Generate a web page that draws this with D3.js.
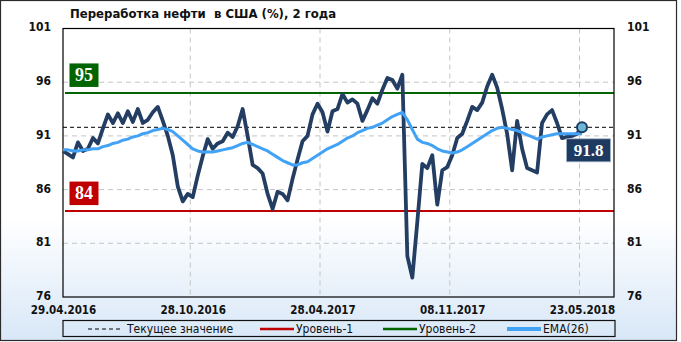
<!DOCTYPE html>
<html>
<head>
<meta charset="utf-8">
<script src="https://cdn.jsdelivr.net/npm/d3@7"></script>
<style>
  body { margin: 0; background: #fff; }
  svg { display: block; }
</style>
</head>
<body>
<svg width="681" height="342"></svg>
<script>
// weekly refinery utilization, %
const refining = [89.6, 89.3, 89.0, 90.4, 89.6, 89.8, 90.8, 90.3, 91.7, 93.0,
  92.2, 93.1, 92.2, 93.3, 92.3, 93.5, 92.2, 92.5, 93.2, 93.7,
  92.4, 91.0, 89.2, 86.3, 84.9, 85.6, 85.3, 87.3, 89.1, 90.7,
  89.8, 90.3, 90.5, 91.3, 90.9, 91.9, 93.5, 91.0, 88.3, 88.0,
  87.5, 85.6, 84.2, 85.8, 85.6, 85.0, 87.0, 88.8, 90.5, 91.0,
  93.0, 94.0, 93.2, 91.4, 93.3, 93.5, 94.9, 94.1, 94.4, 94.0,
  92.4, 93.4, 94.5, 94.0, 95.3, 96.4, 96.2, 95.4, 96.7, 79.8,
  77.8, 83.0, 88.4, 88.0, 89.2, 84.6, 87.8, 88.1, 89.2, 90.8,
  91.2, 92.4, 93.7, 93.4, 94.1, 95.6, 96.7, 95.5, 93.5, 91.2,
  87.8, 92.4, 89.8, 88.0, 87.8, 87.6, 92.2, 93.0, 93.4, 92.2,
  90.8, 90.9, 91.0, 91.2, 91.8];

const ema26 = [89.7, 89.7, 89.6, 89.6, 89.7, 89.7, 89.8, 89.8, 90.0, 90.1,
  90.3, 90.4, 90.6, 90.7, 90.9, 91.0, 91.2, 91.3, 91.5, 91.6,
  91.7, 91.6, 91.4, 91.0, 90.6, 90.2, 89.8, 89.6, 89.5, 89.5,
  89.5, 89.6, 89.7, 89.8, 89.9, 90.1, 90.3, 90.4, 90.2, 90.0,
  89.8, 89.6, 89.3, 89.0, 88.7, 88.5, 88.3, 88.3, 88.5, 88.6,
  88.9, 89.2, 89.5, 89.8, 90.0, 90.2, 90.5, 90.8, 91.0, 91.3,
  91.5, 91.7, 91.8, 92.0, 92.2, 92.5, 92.8, 93.0, 93.2, 92.5,
  91.6, 90.7, 90.4, 90.3, 90.1, 89.8, 89.6, 89.5, 89.4, 89.5,
  89.7, 90.0, 90.3, 90.6, 90.9, 91.2, 91.5, 91.7, 91.8, 91.7,
  91.6, 91.5, 91.3, 91.1, 90.9, 90.7, 90.9, 91.0, 91.1, 91.2,
  91.2, 91.2, 91.2, 91.2, 91.2];

const level1 = 84;
const level2 = 95;
const current = 91.8;

const yTicks = [76, 81, 86, 91, 96, 101];
const xTickIdx = [0, 26, 52, 78, 104];
const xTickLabels = ["29.04.2016", "28.10.2016", "28.04.2017", "08.11.2017", "23.05.2018"];

const title = "Переработка нефти  в США (%), 2 года";
const legendNames = ["Текущее значение", "Уровень-1", "Уровень-2", "EMA(26)"];

const labelFont = "'DejaVu Sans Condensed', 'Liberation Sans', sans-serif";
const serifFont = "'Liberation Serif', 'DejaVu Serif', serif";

const svg = d3.select("svg");
const plotL = 63, plotR = 614, plotT = 28.5, plotB = 297;

// background
const defs = svg.append("defs");
const grad = defs.append("linearGradient")
    .attr("id", "bg").attr("x1", 0).attr("y1", 0).attr("x2", 0).attr("y2", 1);
grad.append("stop").attr("offset", "0").attr("stop-color", "#ffffff");
grad.append("stop").attr("offset", "0.64").attr("stop-color", "#ffffff");
grad.append("stop").attr("offset", "1").attr("stop-color", "#d8e7f7");

svg.append("rect")
    .attr("x", 0.5).attr("y", 0.5)
    .attr("width", 676).attr("height", 340)
    .attr("fill", "url(#bg)")
    .attr("stroke", "#2b2b2b")
    .attr("stroke-width", 1.2);

const x = d3.scaleLinear().domain([0, refining.length - 1]).range([plotL, 582]);
const y = d3.scaleLinear().domain([76, 101]).range([plotB, plotT]);

// gridlines
svg.append("g").selectAll("line")
    .data(yTicks.slice(1, -1))
    .enter().append("line")
    .attr("x1", plotL).attr("x2", plotR)
    .attr("y1", d => y(d)).attr("y2", d => y(d))
    .attr("stroke", "#c4c4c4")
    .attr("stroke-dasharray", "5,4");

svg.append("g").selectAll("line")
    .data(xTickIdx.slice(1))
    .enter().append("line")
    .attr("x1", d => x(d) - 2.5).attr("x2", d => x(d) - 2.5)
    .attr("y1", plotT).attr("y2", plotB)
    .attr("stroke", "#c4c4c4")
    .attr("stroke-dasharray", "5,4");

// level lines
svg.append("line")
    .attr("x1", plotL + 2).attr("x2", plotR)
    .attr("y1", y(level2)).attr("y2", y(level2))
    .attr("stroke", "#006400").attr("stroke-width", 2);
svg.append("line")
    .attr("x1", plotL + 2).attr("x2", plotR)
    .attr("y1", y(level1)).attr("y2", y(level1))
    .attr("stroke", "#c00000").attr("stroke-width", 2);

// current value
svg.append("line")
    .attr("x1", plotL).attr("x2", plotR)
    .attr("y1", y(current)).attr("y2", y(current))
    .attr("stroke", "#000").attr("stroke-width", 1)
    .attr("stroke-dasharray", "4,3");

// plot frame
svg.append("rect")
    .attr("x", plotL).attr("y", plotT)
    .attr("width", plotR - plotL).attr("height", plotB - plotT)
    .attr("fill", "none")
    .attr("stroke", "#000")
    .attr("stroke-width", 1.2);

// axes
const yLeft = svg.append("g")
    .attr("transform", `translate(${plotL},0)`)
    .call(d3.axisLeft(y).tickValues(yTicks).tickSize(0).tickPadding(12));
const yRight = svg.append("g")
    .attr("transform", `translate(${plotR},0)`)
    .call(d3.axisRight(y).tickValues(yTicks).tickSize(0).tickPadding(13));
const xAxis = svg.append("g")
    .attr("transform", `translate(0,${plotB})`)
    .call(d3.axisBottom(x).tickValues(xTickIdx)
        .tickFormat((d, i) => xTickLabels[i]).tickSize(0).tickPadding(9));

[yLeft, yRight, xAxis].forEach(g => {
    g.select(".domain").remove();
    g.selectAll("text")
        .attr("fill", "#111")
        .style("font-family", labelFont)
        .style("font-weight", "bold")
        .style("font-size", "12px");
});
xAxis.selectAll("text").style("font-size", "11.5px");
yLeft.selectAll("text").attr("dy", "0.2em");
yRight.selectAll("text").attr("dy", "0.2em");

// series
const line = d3.line()
    .x((d, i) => x(i))
    .y(d => y(d));

svg.append("path")
    .datum(refining)
    .attr("d", line)
    .attr("fill", "none")
    .attr("stroke", "#233e62")
    .attr("stroke-width", 3.8)
    .attr("stroke-linejoin", "round");

svg.append("path")
    .datum(ema26)
    .attr("d", line)
    .attr("fill", "none")
    .attr("stroke", "#42a2f5")
    .attr("stroke-width", 3)
    .attr("stroke-linejoin", "round");

const last = refining.length - 1;
svg.append("circle")
    .attr("cx", x(last)).attr("cy", y(refining[last]))
    .attr("r", 5)
    .attr("fill", "#6db7d6")
    .attr("stroke", "#1f3a60")
    .attr("stroke-width", 2);

// value tag
svg.append("rect")
    .attr("x", x(last) - 15.5).attr("y", y(refining[last]) + 11.5)
    .attr("width", 44).attr("height", 23)
    .attr("fill", "#1f3a60")
    .attr("stroke", "#9fb3c8")
    .attr("stroke-width", 0.8);
svg.append("text")
    .attr("x", x(last) + 6.5).attr("y", y(refining[last]) + 29)
    .attr("text-anchor", "middle")
    .attr("fill", "#fff")
    .style("font-family", serifFont)
    .style("font-weight", "bold")
    .style("font-size", "17px")
    .text(current.toFixed(1));

// level tags
[[level2, "#006400"], [level1, "#c00000"]].forEach(([v, c]) => {
    svg.append("rect")
        .attr("x", 69.5).attr("y", y(v) - 29.5)
        .attr("width", 29).attr("height", 23.5)
        .attr("fill", c);
    svg.append("text")
        .attr("x", 84).attr("y", y(v) - 12)
        .attr("text-anchor", "middle")
        .attr("fill", "#fff")
        .style("font-family", serifFont)
        .style("font-weight", "bold")
        .style("font-size", "18px")
        .text(v);
});

// title
svg.append("text")
    .attr("x", 70).attr("y", 18)
    .attr("fill", "#111")
    .style("font-family", labelFont)
    .style("font-weight", "bold")
    .style("font-size", "13px")
    .style("white-space", "pre")
    .text(title);

// legend
const lg = svg.append("g");
lg.append("rect")
    .attr("x", plotL).attr("y", 320.5)
    .attr("width", plotR - plotL + 1).attr("height", 16)
    .attr("fill", "none")
    .attr("stroke", "#111")
    .attr("stroke-width", 1.2);

const legendItems = [
    { x: 88, color: "#000", width: 1, dash: "4,3" },
    { x: 260, color: "#c00000", width: 2.5, dash: null },
    { x: 383, color: "#006400", width: 2.5, dash: null },
    { x: 507, color: "#42a2f5", width: 4, dash: null }
];
legendItems.forEach((it, i) => {
    lg.append("line")
        .attr("x1", it.x).attr("x2", it.x + 34)
        .attr("y1", 329).attr("y2", 329)
        .attr("stroke", it.color)
        .attr("stroke-width", it.width)
        .attr("stroke-dasharray", it.dash);
    lg.append("text")
        .attr("x", it.x + (i === 0 ? 39 : 36)).attr("y", 333)
        .attr("fill", "#111")
        .style("font-family", labelFont)
        .style("font-size", "12px")
        .text(legendNames[i]);
});
</script>
</body>
</html>
